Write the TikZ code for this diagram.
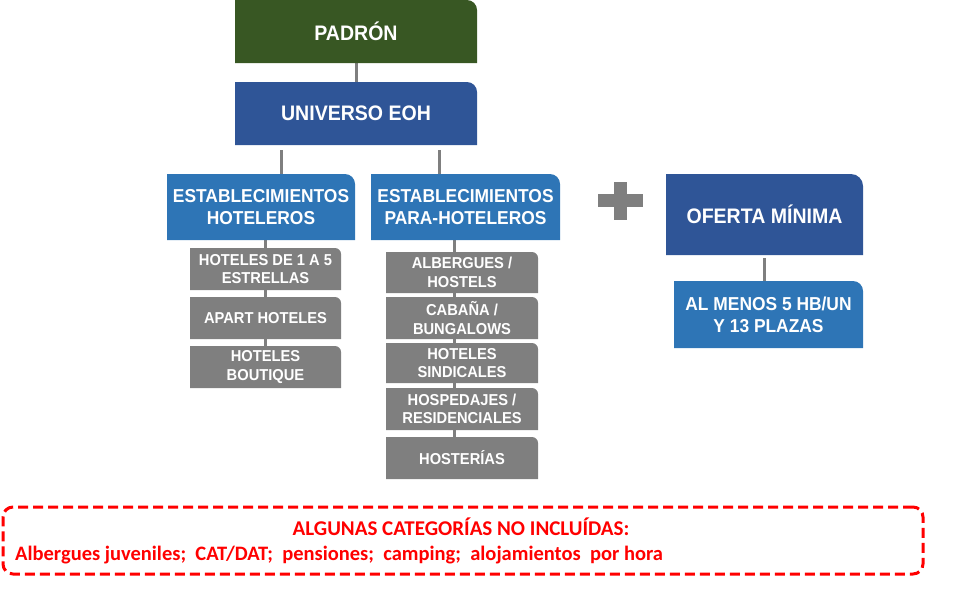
\documentclass[tikz,border=0pt]{standalone}
\usepackage{fontspec}
\setmainfont{Liberation Sans}[FakeStretch=0.93]
\newfontfamily\calib{Carlito}
\usetikzlibrary{backgrounds}
\definecolor{cgreen}{HTML}{385723}
\definecolor{cdblue}{HTML}{2F5597}
\definecolor{cblue}{HTML}{2E75B6}
\definecolor{cgray}{HTML}{7F7F7F}
\definecolor{cred}{HTML}{FF0000}
\newcommand\tbox[9]{%
  \fill[#7] (#2,#5) -- (#2,#3) -- ({#4-#6},#3) arc[start angle=270,end angle=360,radius=#6] -- (#4,#5) -- cycle;
  \node[boxtext,#8,minimum width={(#4-#2)*1pt},minimum height={(#5-#3)*1pt}] (#1) at ({(#2+#4)/2},{(#3+#5)/2}) {#9};
}
\tikzset{
  boxtext/.style={inner sep=0pt,align=center,text=white},
  fbig/.style={font=\bfseries\fontsize{21}{24}\selectfont},
  fmid/.style={font=\bfseries\fontsize{18.7}{22}\selectfont},
  fsmall/.style={font=\bfseries\fontsize{15.8}{18.5}\selectfont},
  conn/.style={draw=cgray,line width=3pt},
  excl/.style={draw=cred,line width=3pt,dash pattern=on 10pt off 5pt,rounded corners=10pt},
  extitle/.style={text=cred,inner sep=0pt,font=\calib\bfseries\fontsize{21}{24}\selectfont},
  extext/.style={text=cred,inner sep=0pt,font=\calib\bfseries\fontsize{20.5}{24}\selectfont},
}
\begin{document}
\begin{tikzpicture}[x=1pt,y=-1pt]
\useasboundingbox (0,0) rectangle (960,608);
% main column
\tbox{padron}{235}{0}{477}{63}{10}{cgreen}{fbig}{PADRÓN}
\tbox{universo}{235}{82}{477}{145}{10}{cdblue}{fbig}{UNIVERSO EOH}
\tbox{hot}{167}{174}{355}{240}{10}{cblue}{fmid}{ESTABLECIMIENTOS\\HOTELEROS}
\tbox{para}{371}{174}{560}{240}{10}{cblue}{fmid}{ESTABLECIMIENTOS\\PARA-HOTELEROS}
% left children
\tbox{g1}{190}{248}{341}{290}{6}{cgray}{fsmall}{HOTELES DE 1 A 5\\ESTRELLAS}
\tbox{g2}{190}{297}{341}{339}{6}{cgray}{fsmall}{APART HOTELES}
\tbox{g3}{190}{346}{341}{388}{6}{cgray}{fsmall}{HOTELES\\BOUTIQUE}
% right children
\tbox{h1}{386}{252}{538}{293}{6}{cgray}{fsmall}{ALBERGUES /\\HOSTELS}
\tbox{h2}{386}{297}{538}{339}{6}{cgray}{fsmall}{CABAÑA /\\BUNGALOWS}
\tbox{h3}{386}{343}{538}{383}{6}{cgray}{fsmall}{HOTELES\\SINDICALES}
\tbox{h4}{386}{388}{538}{430}{6}{cgray}{fsmall}{HOSPEDAJES /\\RESIDENCIALES}
\tbox{h5}{386}{437}{538}{479}{6}{cgray}{fsmall}{HOSTERÍAS}
% oferta minima
\tbox{oferta}{666}{174}{863}{255}{12}{cdblue}{fbig}{OFERTA MÍNIMA}
\tbox{almenos}{674}{281}{863}{348}{10}{cblue}{fmid}{AL MENOS 5 HB/UN\\Y 13 PLAZAS}
% plus sign
\fill[cgray] (598,194) rectangle (643,207);
\fill[cgray] (614,182) rectangle (627,220);
% connectors
\coordinate (u1) at (281,150);
\coordinate (u2) at (439,150);
\coordinate (p1) at (454,240);
\coordinate (o1) at (764,258);
\begin{scope}[on background layer]
\draw[conn] (padron.south) -- (universo.north);
\draw[conn] (u1) -- (u1 |- hot.north);
\draw[conn] (u2) -- (u2 |- para.north);
\draw[conn] (hot.south -| g1.north) -- (g3.north);
\draw[conn] (p1) -- (p1 |- h5.north);
\draw[conn] (o1) -- (o1 |- almenos.north);
\end{scope}
% exclusions
\node[excl,minimum width=920pt,minimum height=67pt,inner sep=0pt] (exbox) at (463,540.5) {};
\node[extitle,anchor=base] (extitleline) at (461,535) {ALGUNAS CATEGORÍAS NO INCLUÍDAS:};
\node[extext,anchor=base west] (exlist) at (15,560) {Albergues juveniles;\ \ CAT/DAT;\ \ pensiones;\ \ camping;\ \ alojamientos\ \ por hora};
\end{tikzpicture}
\end{document}
